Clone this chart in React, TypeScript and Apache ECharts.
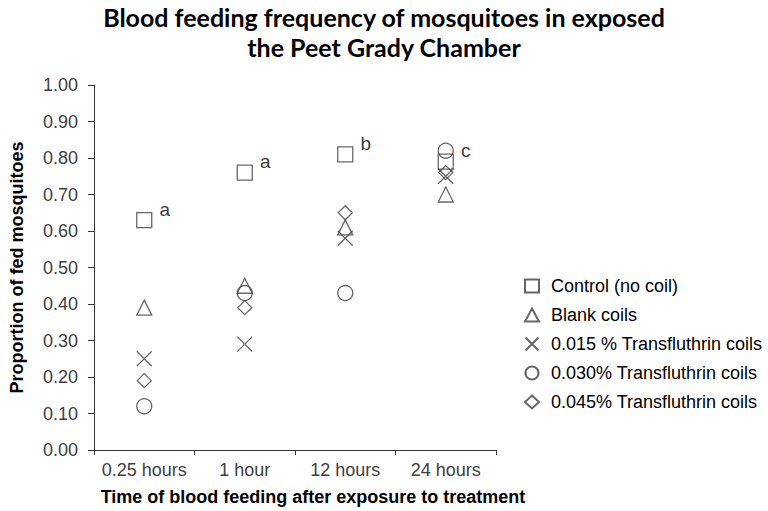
import React, { useEffect, useRef } from "react";
import * as echarts from "echarts";

const categories = ["0.25 hours", "1 hour", "12 hours", "24 hours"];
const control = [0.63, 0.76, 0.81, 0.79];
const blank = [0.39, 0.45, 0.61, 0.70];
const t015 = [0.25, 0.29, 0.58, 0.75];
const t030 = [0.12, 0.43, 0.43, 0.82];
const t045 = [0.19, 0.39, 0.65, 0.76];
const letters = ["a", "a", "b", "c"];
const seriesNames = [
  "Control (no coil)",
  "Blank coils",
  "0.015 % Transfluthrin coils",
  "0.030% Transfluthrin coils",
  "0.045% Transfluthrin coils",
];

const STROKE = "#404040";
const FONT = "'Liberation Sans', Arial, sans-serif";

export default function App() {
  const ref = useRef<HTMLDivElement>(null);
  useEffect(() => {
    const chart = echarts.init(ref.current!, null, { renderer: "svg" });
    const itemStyle = { color: "rgba(255,255,255,0)", borderColor: STROKE, borderWidth: 1.3 };
    const mk = (name: string, data: number[], symbol: string, size: number, extra: any = {}) => ({
      type: "scatter",
      name,
      data,
      symbol,
      symbolSize: size,
      itemStyle,
      ...extra,
    });
    chart.setOption({
      animation: false,
      backgroundColor: "#fff",
      title: {
        text: "Blood feeding frequency of mosquitoes in exposed\nthe Peet Grady Chamber",
        left: "center",
        top: -3,
        textStyle: {
          fontFamily: "Lato, 'Open Sans', sans-serif",
          fontWeight: "bold",
          fontSize: 25,
          lineHeight: 30,
          color: "#000",
        },
      },
      grid: { left: 80, right: 272, top: 85, bottom: 61 },
      xAxis: {
        type: "category",
        data: categories,
        boundaryGap: true,
        axisLine: { lineStyle: { color: "#333", width: 1 } },
        axisTick: { show: true, length: 5, interval: 0, lineStyle: { color: "#333" } },
        axisLabel: { color: "#404040", fontSize: 18, fontFamily: FONT, margin: 11, interval: 0 },
        name: "Time of blood feeding after exposure to treatment",
        nameLocation: "middle",
        nameGap: 38,
        nameTextStyle: {
          fontFamily: FONT,
          fontWeight: "bold",
          fontSize: 18,
          color: "#000",
          padding: [0, 0, 0, 36],
        },
      },
      yAxis: {
        type: "value",
        min: 0,
        max: 1,
        interval: 0.1,
        splitLine: { show: false },
        axisLine: { show: true, lineStyle: { color: "#333", width: 1 } },
        axisTick: { show: true, length: 6, lineStyle: { color: "#333" } },
        axisLabel: {
          color: "#404040",
          fontSize: 18,
          fontFamily: FONT,
          margin: 16,
          formatter: (v: number) => v.toFixed(2),
        },
        name: "Proportion of fed mosquitoes",
        nameLocation: "middle",
        nameGap: 68,
        nameTextStyle: { fontFamily: FONT, fontWeight: "bold", fontSize: 18, color: "#000" },
      },
      legend: {
        orient: "vertical",
        left: 519,
        top: 272,
        itemWidth: 14,
        itemHeight: 13,
        itemGap: 11,
        textStyle: { fontFamily: FONT, fontSize: 18, color: "#000", padding: [0, 0, 0, 7] },
        data: seriesNames,
      },
      series: [
        mk(seriesNames[0], control, "rect", 15, {
          z: 5,
          label: {
            show: true,
            position: "right",
            distance: 7,
            offset: [0, -11],
            formatter: (p: any) => letters[p.dataIndex],
            fontFamily: FONT,
            fontSize: 19,
            color: "#000",
          },
        }),
        mk(seriesNames[1], blank, "triangle", 15),
        mk(seriesNames[2], t015, "path://M0,0L10,10M10,0L0,10", 15),
        mk(seriesNames[3], t030, "circle", 15),
        mk(seriesNames[4], t045, "diamond", 14),
      ],
    });
    return () => chart.dispose();
  }, []);
  return <div ref={ref} style={{ width: 768, height: 511, position: "absolute", left: 0, top: 0 }} />;
}
